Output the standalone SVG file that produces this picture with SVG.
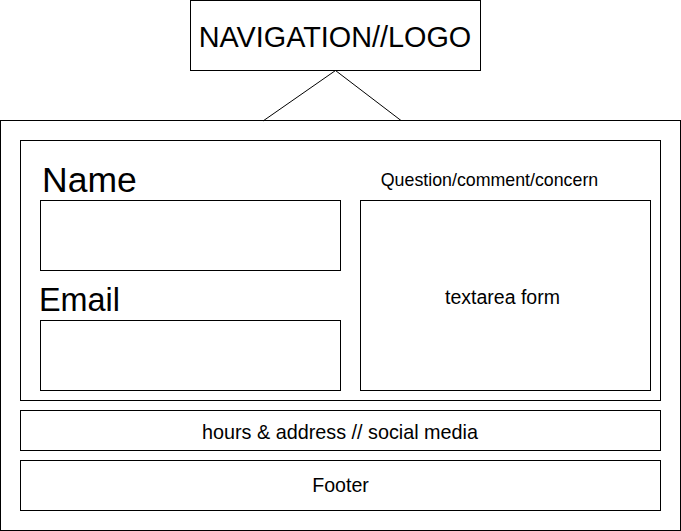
<svg xmlns="http://www.w3.org/2000/svg" width="681" height="531" viewBox="0 0 681 531">
<style>
.b{fill:#fff;stroke:#000;stroke-width:1}
.t{font-family:"Liberation Sans",Arial,sans-serif;fill:#000}
.c{text-anchor:middle}
.l{fill:none;stroke:#000;stroke-width:1}
</style>
<rect width="681" height="531" fill="#fff"/>
<g id="page"><rect class="b" x="0.5" y="120.5" width="680" height="410"/></g>
<g id="nav"><rect class="b" x="190.5" y="0.5" width="290" height="70"/>
<text class="t c" x="335" y="46.5" font-size="28.8">NAVIGATION//LOGO</text></g>
<g id="connectors">
<path class="l" d="M335.5 70.5 L263 121 M335.5 70.5 L401 120.5"/>
</g>
<g id="form"><rect class="b" x="20.5" y="140.5" width="640" height="260"/></g>
<g id="name-label"><text class="t" x="42" y="191.7" font-size="35.5">Name</text></g>
<g id="name-box"><rect class="b" x="40.5" y="200.5" width="300" height="70"/></g>
<g id="email-label"><text class="t" x="39" y="311" font-size="32.4">Email</text></g>
<g id="email-box"><rect class="b" x="40.5" y="320.5" width="300" height="70"/></g>
<g id="question-label"><text class="t c" x="489.5" y="186.3" font-size="17.8" fill="#222">Question/comment/concern</text></g>
<g id="textarea"><rect class="b" x="360.5" y="200.5" width="290" height="190"/>
<text class="t c" x="502.5" y="303.5" font-size="19.5">textarea form</text></g>
<g id="hours"><rect class="b" x="20.5" y="410.5" width="640" height="40"/>
<text class="t c" x="340" y="438.5" font-size="19.8">hours &amp; address // social media</text></g>
<g id="footer"><rect class="b" x="20.5" y="460.5" width="640" height="50"/>
<text class="t c" x="340.5" y="491.5" font-size="19.6">Footer</text></g>
</svg>
